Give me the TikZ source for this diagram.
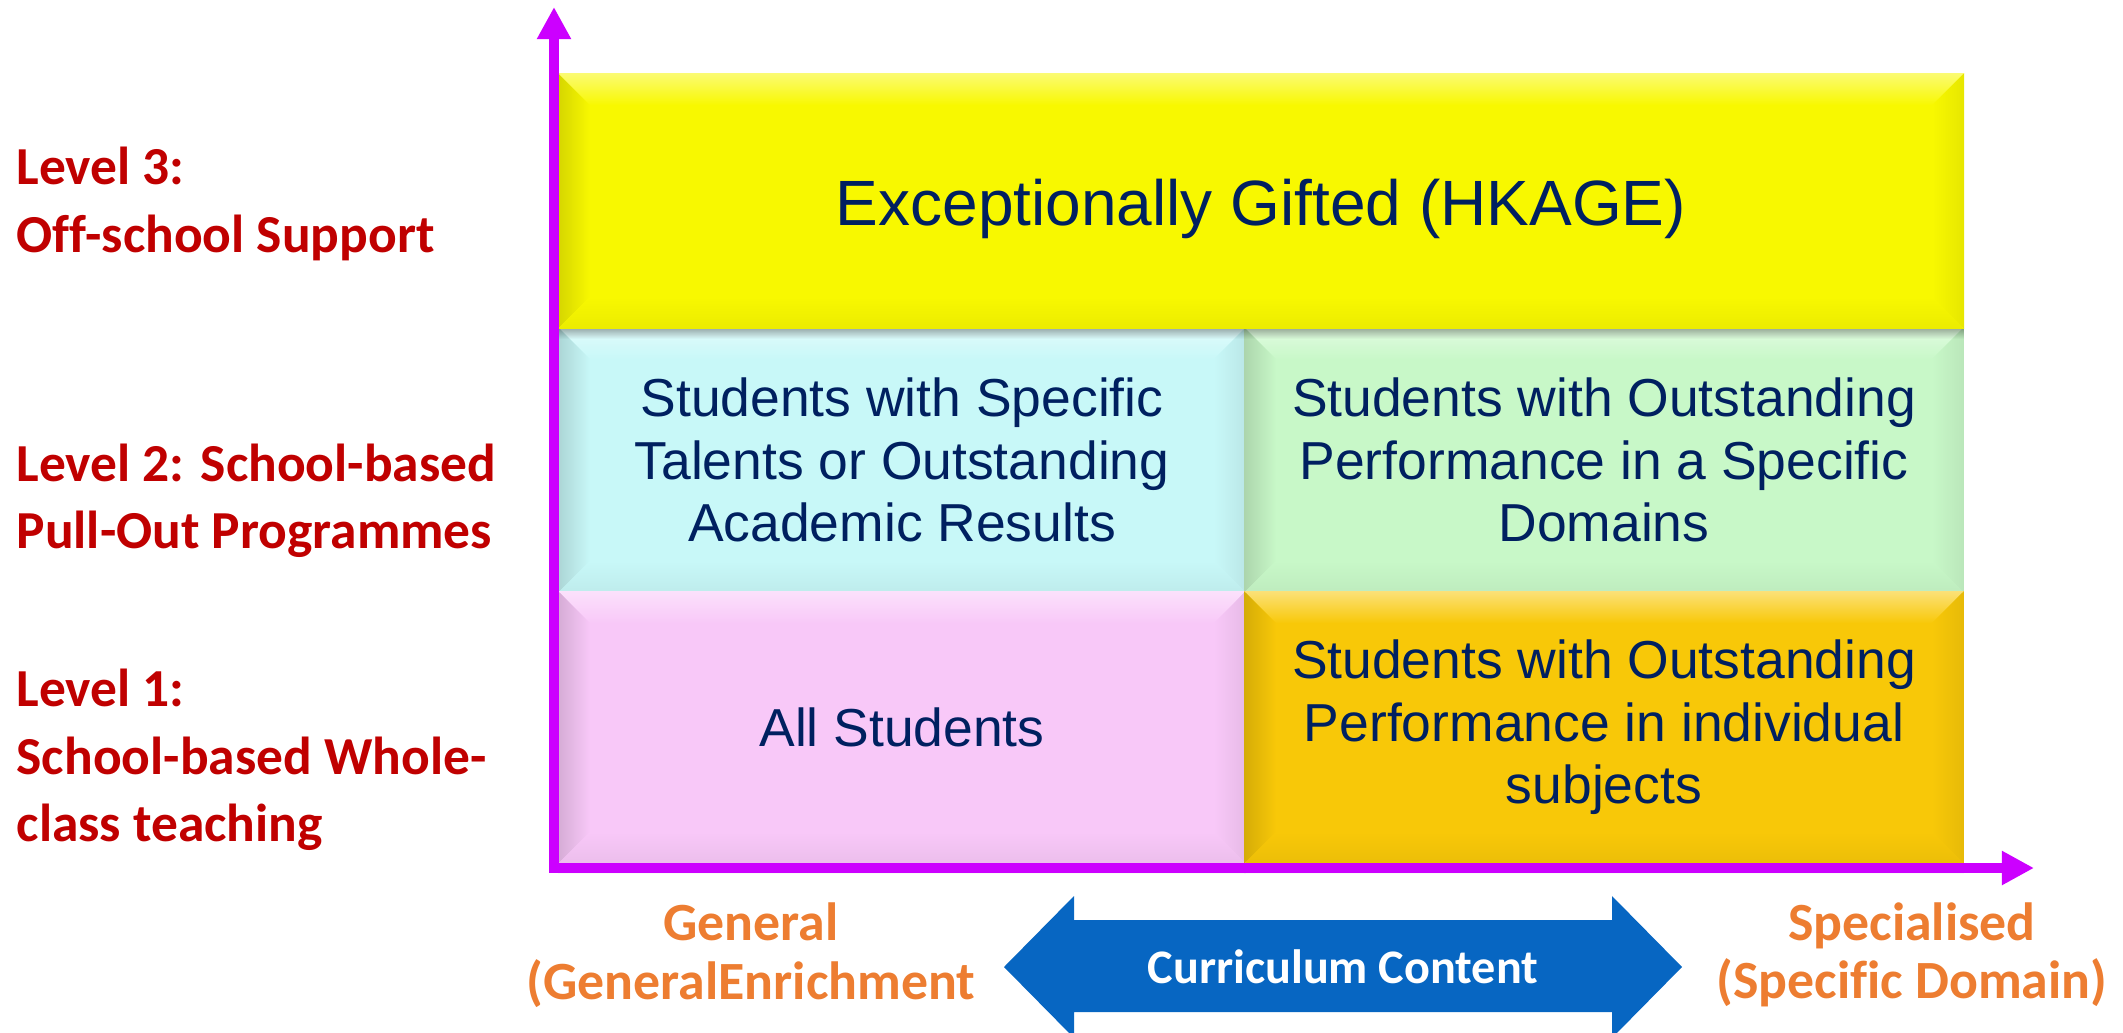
\documentclass[tikz,border=0pt]{standalone}
\usepackage{fontspec}
\setmainfont{Liberation Sans}
\newfontfamily\labelfont{Carlito}[Ligatures=NoCommon]
\usetikzlibrary{arrows.meta,fadings}

\definecolor{navytext}{HTML}{002060}
\definecolor{levelred}{HTML}{C00000}
\definecolor{endorange}{HTML}{ED7D31}
\definecolor{axispurple}{HTML}{CC00FF}
\definecolor{arrowblue}{HTML}{0766C2}
\definecolor{giftedfill}{HTML}{F8F800}
\definecolor{talentfill}{HTML}{C8F8F8}
\definecolor{domainfill}{HTML}{C8F8C8}
\definecolor{allfill}{HTML}{F8C8F8}
\definecolor{subjectfill}{HTML}{F8C808}

\tikzfading[name=shadowfade, top color=transparent!0, bottom color=transparent!100]

% bevel edges of a box: #1 node, #2 colour
\newcommand{\cellbevel}[2]{%
  \shade[top color=#2!55!white, bottom color=#2]
    (#1.north west) -- (#1.north east) -- ([xshift=-0.32cm,yshift=-0.32cm]#1.north east)
    -- ([xshift=0.32cm,yshift=-0.32cm]#1.north west) -- cycle;
  \shade[left color=#2!86!black, right color=#2]
    (#1.north west) -- ([xshift=0.32cm,yshift=-0.32cm]#1.north west)
    -- ([xshift=0.32cm,yshift=0.32cm]#1.south west) -- (#1.south west) -- cycle;
  \shade[left color=#2, right color=#2!93!black]
    (#1.north east) -- ([xshift=-0.32cm,yshift=-0.32cm]#1.north east)
    -- ([xshift=-0.32cm,yshift=0.32cm]#1.south east) -- (#1.south east) -- cycle;
  \shade[top color=#2, bottom color=#2!95!black]
    (#1.south west) -- (#1.south east) -- ([xshift=-0.32cm,yshift=0.32cm]#1.south east)
    -- ([xshift=0.32cm,yshift=0.32cm]#1.south west) -- cycle;
  \fill[black, opacity=0.3, path fading=shadowfade]
    (#1.south west) rectangle ([yshift=-0.1cm]#1.south east);
}

\begin{document}
\begin{tikzpicture}[%
      x=0.01cm, y=-0.01cm,
      cellbox/.style={inner sep=0pt, align=center, text=navytext,
        font=\fontsize{15.2}{17.8}\selectfont},
      levellabel/.style={anchor=west, inner sep=0pt, align=left, text=levelred,
        font=\labelfont\bfseries\fontsize{15.2}{19.2}\selectfont},
      endlabel/.style={inner sep=0pt, align=center, text=endorange,
        font=\labelfont\bfseries\fontsize{15.3}{16.6}\selectfont},
      axisline/.style={draw=axispurple, line width=0.1cm, line join=miter,
        {Triangle[length=0.32cm, width=0.32cm]}-{Triangle[length=0.32cm, width=0.32cm]}},
      ]
      \useasboundingbox (0,0) rectangle (2123,1033);
      \clip (0,0) rectangle (2123,1033);

      % the five boxes
      \node [cellbox, fill=giftedfill, minimum width=14.04cm, minimum height=2.54cm] (gifted) at (1261,201) {};
      \node [cellbox, fill=talentfill, minimum width=6.86cm, minimum height=2.64cm] (talent) at (902,460) {};
      \node [cellbox, fill=domainfill, minimum width=7.18cm, minimum height=2.64cm] (domain) at (1604,460) {};
      \node [cellbox, fill=allfill, minimum width=6.86cm, minimum height=2.71cm] (all) at (902,727.5) {};
      \node [cellbox, fill=subjectfill, minimum width=7.18cm, minimum height=2.71cm] (subject) at (1604,727.5) {};

      \cellbevel{talent}{talentfill}
      \cellbevel{domain}{domainfill}
      \cellbevel{all}{allfill}
      \cellbevel{subject}{subjectfill}
      \cellbevel{gifted}{giftedfill}

      \node [cellbox, font=\fontsize{18.2}{21}\selectfont] (giftedtext) at (1261,209) {Exceptionally Gifted (HKAGE)};
      \node [cellbox] (talenttext) at (talent) {Students with Specific\\Talents or Outstanding\\Academic Results};
      \node [cellbox] (domaintext) at (domain) {Students with Outstanding\\Performance in a Specific\\Domains};
      \node [cellbox] (alltext) at (all) {All Students};
      \node [cellbox] (subjecttext) at (subject) {Students with Outstanding\\Performance in individual\\subjects};

      % axes
      \coordinate (origin) at (554,868);
      \coordinate (ytip) at (554,7);
      \coordinate (xtip) at (2034,868);
      \draw [axisline] (xtip) -- (origin) -- (ytip);

      % level labels
      \node [levellabel] (level3) at (16,204) {Level 3:\\Off-school Support};
      \node [levellabel] (level2) at (16,501) {Level 2: School-based\\Pull-Out Programmes};
      \node [levellabel] (level1) at (16,760) {Level 1:\\School-based Whole-\\class teaching};

      % curriculum arrow
      \fill [arrowblue] (1004,967) -- (1074,896) -- (1074,920) -- (1612,920) -- (1612,896)
        -- (1682,967) -- (1612,1038) -- (1612,1012) -- (1074,1012) -- (1074,1038) -- cycle;
      \node [text=white, font=\labelfont\bfseries\fontsize{13.7}{16}\selectfont] (curriculum) at (1343,967) {Curriculum Content};

      \node [endlabel] (general) at (751,955) {General\\(GeneralEnrichment};
      \node [endlabel] (special) at (1912,955) {Specialised\\(Specific Domain)};
      \end{tikzpicture}
\end{document}
